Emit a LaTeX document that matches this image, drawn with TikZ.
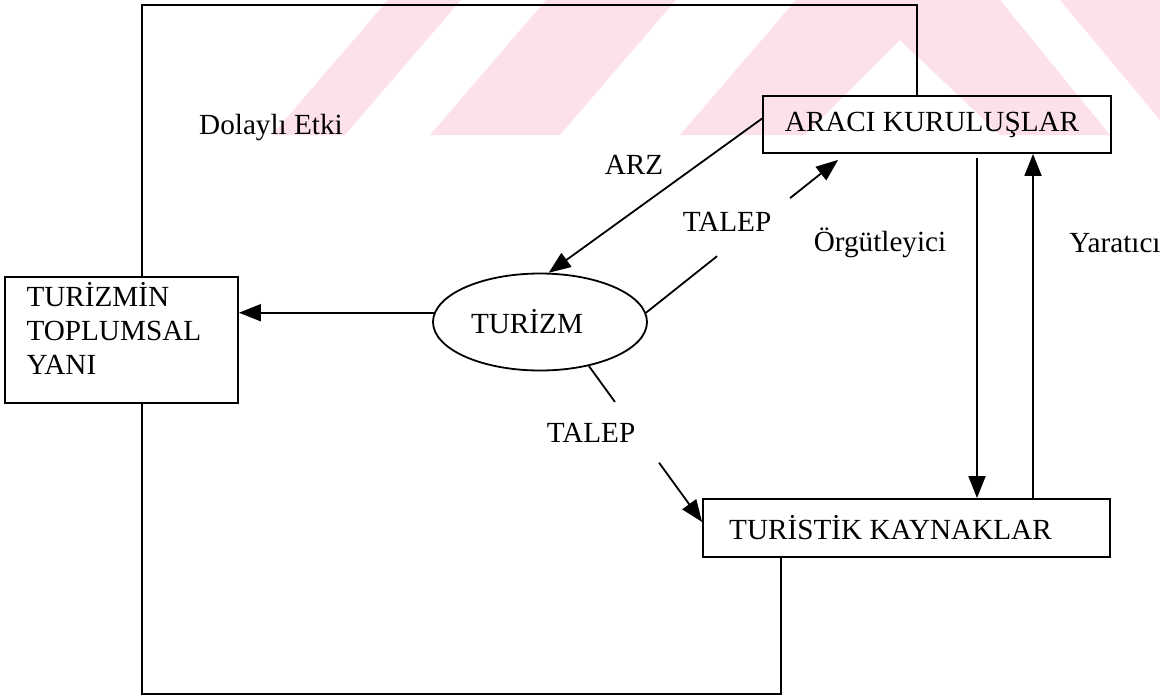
\documentclass[tikz,border=0pt]{standalone}
\usepackage{fontspec}
\setmainfont{Liberation Serif}
\usetikzlibrary{shapes.geometric,arrows.meta,positioning,calc}
\definecolor{filigran}{RGB}{252,226,232}

\begin{document}
\begin{tikzpicture}[x=0.5pt,y=-0.5pt,
    every node/.style={font=\fontsize{14.6}{17}\selectfont, text=black},
    kutu/.style={draw, line width=0.9pt, inner sep=0pt},
    etiket/.style={inner sep=0pt},
    cizgi/.style={line width=0.9pt},
    ok/.style={cizgi, -{Triangle[length=11pt,width=8.5pt]}},
    ]
  \useasboundingbox (0,0) rectangle (1160,696);

  % arka plandaki filigran
  \fill[filigran] (272,135) -- (345,135) -- (461,0) -- (388,0) -- cycle;
  \fill[filigran] (430,135) -- (560,135) -- (676,0) -- (546,0) -- cycle;
  \fill[filigran] (680,135) -- (796,0) -- (1000,0) -- (1110,135) -- (1000,135)
      -- (900,40) -- (805,135) -- cycle;
  \fill[filigran] (1060,0) -- (1160,0) -- (1160,120) -- cycle;

  \node[kutu, minimum width=174pt, minimum height=28.5pt] (araci) at (937,124.5) {ARACI KURULUŞLAR\kern5pt};
  \node[kutu, minimum width=203.5pt, minimum height=29pt] (kaynak) at (906.5,528) {TURİSTİK KAYNAKLAR\kern16pt};
  \node[kutu, minimum width=116.5pt, minimum height=63pt, text width=95pt, align=left] (toplum) at (121.5,340) {TURİZMİN\\TOPLUMSAL\\YANI\rule[-12pt]{0pt}{1pt}};
  \node[kutu, ellipse, minimum width=107pt, minimum height=48.5pt] (turizm) at (540,322) {TURİZM\kern13pt};

  \node[etiket] (dolayli) at (271,128) {Dolaylı Etki};
  \node[etiket] (arz) at (634,165) {ARZ};
  \node[etiket] (talep1) at (727,222) {TALEP};
  \node[etiket] (talep2) at (591,433) {TALEP};
  \node[etiket] (orgut) at (880,243) {Örgütleyici};
  \node[etiket] (yarat) at (1115,243) {Yaratıcı};

  \coordinate (frameNW) at (142,5);
  \coordinate (frameSE) at (781,694);
  \coordinate (talepA) at ([xshift=38pt,yshift=-3pt]araci.south west);

  % dolayli etki cercevesi
  \draw[cizgi] (toplum.north -| frameNW) -- (frameNW) -| ([xshift=-10pt]araci.north);
  \draw[cizgi] (toplum.south -| frameNW) |- (frameSE) -- (frameSE |- kaynak.south);

  \draw[ok] (turizm.175) -- (turizm.175 -| toplum.east);
  \draw[ok] ([yshift=3pt]araci.west) -- (turizm.80);
  \draw[cizgi] (turizm.5) -- ($(turizm.5)!0.37!(talepA)$);
  \draw[ok] ($(turizm.5)!0.75!(talepA)$) -- (talepA);
  \draw[cizgi] (turizm.-42) -- ($(turizm.-42)!0.23!([yshift=3pt]kaynak.west)$);
  \draw[ok] ($(turizm.-42)!0.62!([yshift=3pt]kaynak.west)$) -- ([yshift=3pt]kaynak.west);
  \draw[ok] ([xshift=20pt,yshift=-2pt]araci.south) -- ([xshift=20pt]araci.south |- kaynak.north);
  \draw[ok] ([xshift=48pt]araci.south |- kaynak.north) -- ([xshift=48pt]araci.south);
\end{tikzpicture}
\end{document}
